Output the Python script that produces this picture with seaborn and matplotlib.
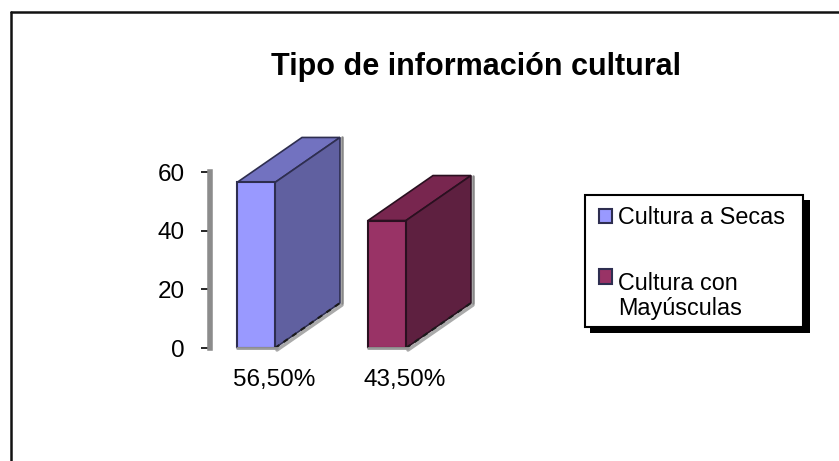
import matplotlib
matplotlib.use('Agg')
import matplotlib.pyplot as plt
import seaborn as sns
import pandas as pd
from matplotlib.patches import Polygon, Rectangle
from matplotlib.transforms import ScaledTranslation

categorias = ['56,50%', '43,50%']
series = ['Cultura a Secas', 'Cultura con\nMayúsculas']
valores = [56.5, 43.5]
yticks = [0, 20, 40, 60]
colores = ['#9999FF', '#993366']
colores_top = ['#7272C0', '#78264F']
colores_lado = ['#6060A0', '#5E2040']

W, H = 839, 461
sns.set_theme(style='white')
plt.rcParams['font.family'] = ['Liberation Sans', 'DejaVu Sans']

df = pd.DataFrame({'categoria': categorias, 'valor': valores, 'serie': series})

fig = plt.figure(figsize=(W / 100, H / 100), dpi=100)
# axes placed in pixels of the original picture
ax = fig.add_axes([212 / W, 1 - 348 / H, (490 - 212) / W, (348 - 135) / H])

sns.barplot(data=df, x='categoria', y='valor', hue='serie', dodge=False, width=0.29,
            palette=colores, saturation=1, edgecolor='#2E2E50', linewidth=1.5, ax=ax, legend=True)

# scale: 131 px per category, 2.93 px per unit
ax.set_xlim(-44 / 131, 278 / 131 - 44 / 131)
ax.set_ylim(0, 213 / 2.93)
dx = 65 / 131
dy = 45 / 2.93
px_x = 1 / 131
px_y = 1 / 2.93

barras = [p for p in ax.patches if p.get_height() > 0]
for i, p in enumerate(barras):
    x0, ancho, alto = p.get_x(), p.get_width(), p.get_height()
    x1 = x0 + ancho
    borde = '#2A1020' if i == 1 else '#2E2E50'
    p.set_edgecolor(borde)
    ax.add_patch(Polygon([(x0, alto), (x1, alto), (x1 + dx, alto + dy), (x0 + dx, alto + dy)],
                         facecolor=colores_top[i], edgecolor=borde, lw=1.2, zorder=3))
    ax.add_patch(Polygon([(x1, 0), (x1 + dx, dy), (x1 + dx, alto + dy), (x1, alto)],
                         facecolor=colores_lado[i], edgecolor=borde, lw=1.2, zorder=3))
    # gray shadow and dark dashes along the bottom of the block
    ax.plot([x1 + 2 * px_x, x1 + dx + 2 * px_x], [-2 * px_y, dy - 2 * px_y], color='#AAAAAA', lw=2.5,
            zorder=2.5, clip_on=False)
    ax.plot([x1, x1 + dx], [0, dy], color='#1A1A1A', lw=1.5, ls=(0, (2.5, 2.5)), zorder=4)
    ax.plot([x1 + dx + 2 * px_x] * 2, [dy, alto + dy], color='#888888', lw=1.8, zorder=2.5)
    ax.plot([x0, x1 + 2 * px_x], [0, 0], color='#999999', lw=2, zorder=4, clip_on=False)
    p.set_zorder(3.5)

for s in ['top', 'right', 'bottom']:
    ax.spines[s].set_visible(False)
ax.spines['left'].set_bounds(0, 60)
ax.spines['left'].set_color('#8C8C8C')
ax.spines['left'].set_linewidth(4)
ax.spines['left'].set_position(('outward', 1.8))

ax.set_xlabel('')
ax.set_ylabel('')
ax.set_yticks(yticks)
ax.tick_params(axis='y', left=True, length=6.8, width=1.2, color='black', labelsize=17.5, pad=10.8, labelcolor='black')
ax.tick_params(axis='x', bottom=False, labelsize=17.5, pad=9, labelcolor='black')
for t in ax.get_xticklabels():
    t.set_transform(t.get_transform() + ScaledTranslation(18 / 100, 0, fig.dpi_scale_trans))

fig.text(476.5 / W, 1 - 75 / H, 'Tipo de información cultural', fontsize=22, fontweight='bold',
         ha='center', va='baseline', color='black')

# outer frame, open at the bottom
marco = dict(color='#111111', lw=1.8, transform=fig.transFigure)
fig.add_artist(plt.Line2D([10.5 / W, 10.5 / W], [0, 1 - 12.5 / H], **marco))
fig.add_artist(plt.Line2D([10.5 / W, 1], [1 - 12.5 / H, 1 - 12.5 / H], **marco))

handles, labels = ax.get_legend_handles_labels()
ax.get_legend().remove()
# legend box with its hard shadow
fig.add_artist(Rectangle((590 / W, 1 - 333 / H), 220 / W, 133 / H, facecolor='black',
                         edgecolor='none', transform=fig.transFigure, zorder=5))
fig.add_artist(Rectangle((584.5 / W, 1 - 327 / H), 218.5 / W, 132 / H, facecolor='white',
                         edgecolor='black', lw=1.5, transform=fig.transFigure, zorder=5.5))
leg = fig.legend(handles, labels, loc='upper left', bbox_to_anchor=(586 / W, 1 - 193 / H),
                 frameon=False, fontsize=16.8, handlelength=0.55, handleheight=0.55, handletextpad=0.26,
                 labelspacing=1.85, borderpad=0.55, borderaxespad=0)
leg.set_zorder(6)
for t in leg.get_texts():
    t.set_color('black')
    t.set_linespacing(1.1)
# second swatch sits next to the first line of its label
h2 = leg.legend_handles[1]
h2.set_y(h2.get_y() + 14.5)

fig.savefig('out.png', dpi=100)
